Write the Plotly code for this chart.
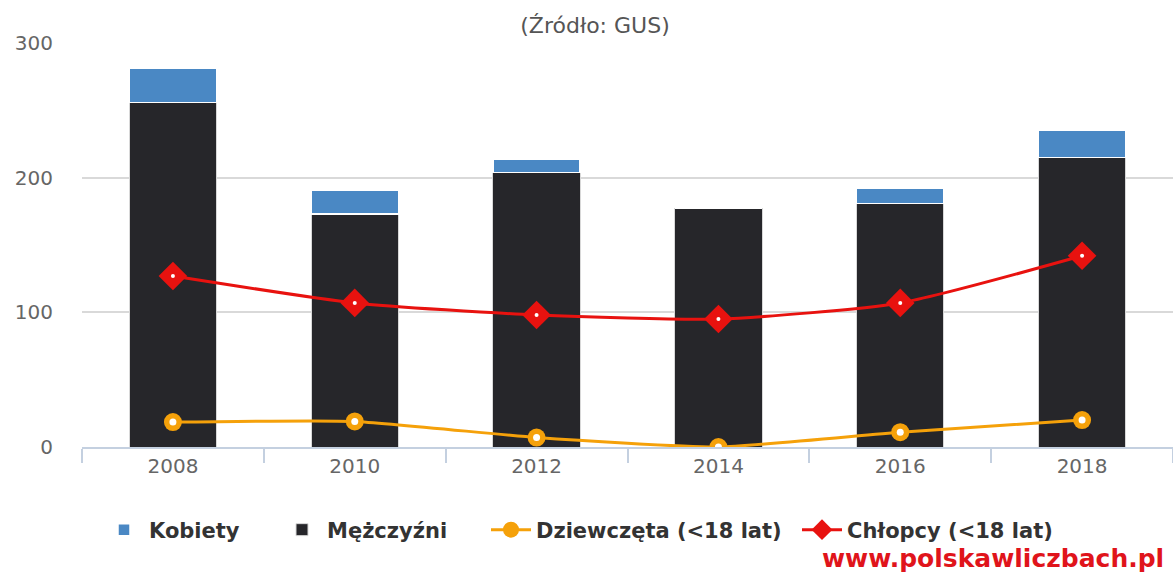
import plotly.graph_objects as go

years = ["2008", "2010", "2012", "2014", "2016", "2018"]
mezczyzni = [256, 173, 204, 177, 181, 215]
kobiety = [25, 18, 10, 0, 11, 20]
dziewczeta = [18.5, 19, 7, 0, 11, 20]
chlopcy = [127, 107, 98, 95, 107, 142]
y_ticks = [0, 100, 200, 300]

FONT = "DejaVu Sans"
W, H = 1173, 574
L, R, T, B = 82, 0, 43, 127
PW, PH = W - L - R, H - T - B


def px_x(p):
    return (p - L) / PW


def px_y(p):
    return (H - B - p) / PH


fig = go.Figure()

fig.add_trace(go.Bar(
    x=years, y=mezczyzni, name="Mężczyźni", legend="legend2",
    marker=dict(color="#26262a", line=dict(color="#d8d8d8", width=1)),
    width=0.48,
))
fig.add_trace(go.Bar(
    x=years, y=kobiety, name="Kobiety", legend="legend",
    marker=dict(color="#4a88c4", line=dict(color="#ffffff", width=1.5)),
    width=0.48,
))
fig.add_trace(go.Scatter(
    x=years, y=dziewczeta, name="Dziewczęta (<18 lat)", legend="legend3",
    mode="lines+markers",
    line=dict(color="#f5a10a", width=3, shape="spline", smoothing=0.5),
    marker=dict(symbol="circle", size=18, color="#f5a10a"),
))
fig.add_trace(go.Scatter(
    x=years, y=dziewczeta, showlegend=False, hoverinfo="skip",
    mode="markers", marker=dict(symbol="circle", size=7, color="white"),
))
fig.add_trace(go.Scatter(
    x=years, y=chlopcy, name="Chłopcy (<18 lat)", legend="legend4",
    mode="lines+markers",
    line=dict(color="#e8120f", width=3, shape="spline", smoothing=0.6),
    marker=dict(symbol="diamond", size=22, color="#e8120f"),
))
fig.add_trace(go.Scatter(
    x=years, y=chlopcy, showlegend=False, hoverinfo="skip",
    mode="markers", marker=dict(symbol="circle", size=4, color="white"),
))

legend_font = dict(family=FONT, size=21, color="#333333", weight="bold")


def leg(text_start_px):
    return dict(
        orientation="h", x=px_x(text_start_px - 51), xanchor="left",
        y=px_y(530), yanchor="middle", font=legend_font, itemwidth=40,
        bgcolor="rgba(0,0,0,0)",
    )


fig.update_layout(
    width=W, height=H,
    barmode="stack",
    bargap=0.52,
    plot_bgcolor="white", paper_bgcolor="white",
    margin=dict(l=L, r=R, t=T, b=B, autoexpand=False),
    font=dict(family=FONT, color="#666666", size=20),
    title=dict(text="(Źródło: GUS)", x=595 / W, xanchor="center",
               y=1 - 25 / H, yanchor="middle",
               font=dict(family=FONT, size=22, color="#555555")),
    legend=leg(150),
    legend2=leg(328),
    legend3=leg(537),
    legend4=leg(848),
    showlegend=True,
)

fig.update_yaxes(
    range=[0, 300], tickvals=y_ticks, showgrid=True, gridcolor="#d9d9d9", gridwidth=1.5,
    zeroline=False, showline=False, ticks="", ticklabelstandoff=28, automargin=False,
    tickfont=dict(family=FONT, size=20, color="#666666"),
)
fig.update_xaxes(
    type="category", showline=True, linecolor="#c4d0e0", linewidth=2,
    ticks="outside", tickson="boundaries", ticklen=14, tickcolor="#c4d0e0", tickwidth=2,
    tickfont=dict(family=FONT, size=20, color="#666666"), automargin=False,
    showgrid=False,
)

fig.add_annotation(
    text="www.polskawliczbach.pl", xref="paper", yref="paper",
    x=px_x(820), xanchor="left", y=px_y(558), yanchor="middle", showarrow=False,
    font=dict(family=FONT, size=25, color="#e0141b", weight="bold"),
)

fig.write_html(
    "out.html",
    config={"displayModeBar": False},
    post_script="document.body.style.margin='0';document.body.style.overflow='hidden';",
)
